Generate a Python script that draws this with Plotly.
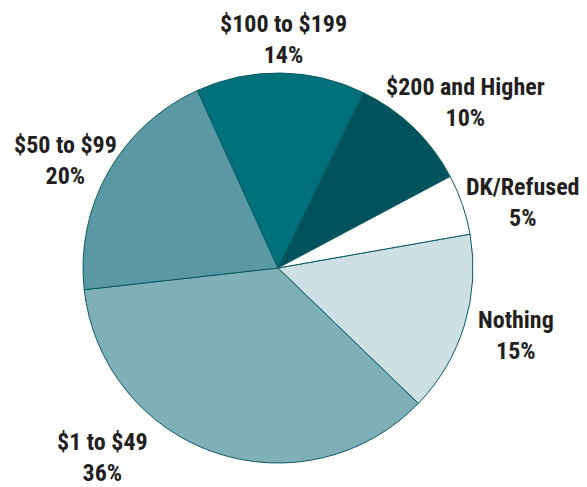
import plotly.graph_objects as go

labels = ["Nothing", "$1 to $49", "$50 to $99", "$100 to $199", "$200 and Higher", "DK/Refused"]
values = [15, 36, 20, 14, 10, 5]
colors = ["#cde0e3", "#7fb0b8", "#5a99a3", "#00717b", "#00535c", "#ffffff"]

# label anchor positions in window pixels (centre of the two-line label)
label_px = [(516, 335), (102, 457), (65, 160), (283, 39), (465, 102), (523, 202)]

OFF = 8  # default page body margin
W, H = 587 - OFF, 487 - OFF
cx, cy, r = 278 - OFF, 268 - OFF, 195

fig = go.Figure(go.Pie(
    labels=labels, values=values, sort=False, direction="clockwise",
    rotation=80, textinfo="none", hoverinfo="label+percent",
    marker=dict(colors=colors, line=dict(color="#0b5a63", width=1)),
    domain=dict(x=[(cx - r) / W, (cx + r) / W], y=[(H - cy - r) / H, (H - cy + r) / H]),
    showlegend=False,
))

for lab, v, (px, py) in zip(labels, values, label_px):
    fig.add_annotation(
        x=(px - OFF) / W, y=1 - (py - OFF) / H, xref="paper", yref="paper",
        text=f"{lab}<br>{v}%", showarrow=False, align="center",
        font=dict(family="Roboto Condensed, DejaVu Sans Condensed, sans-serif", size=24,
                  color="#231f20", weight="bold"),
        xanchor="center", yanchor="middle",
    )

fig.update_layout(width=W, height=H, margin=dict(l=0, r=0, t=0, b=0),
                  paper_bgcolor="white", plot_bgcolor="white")
fig.write_html("out.html")
